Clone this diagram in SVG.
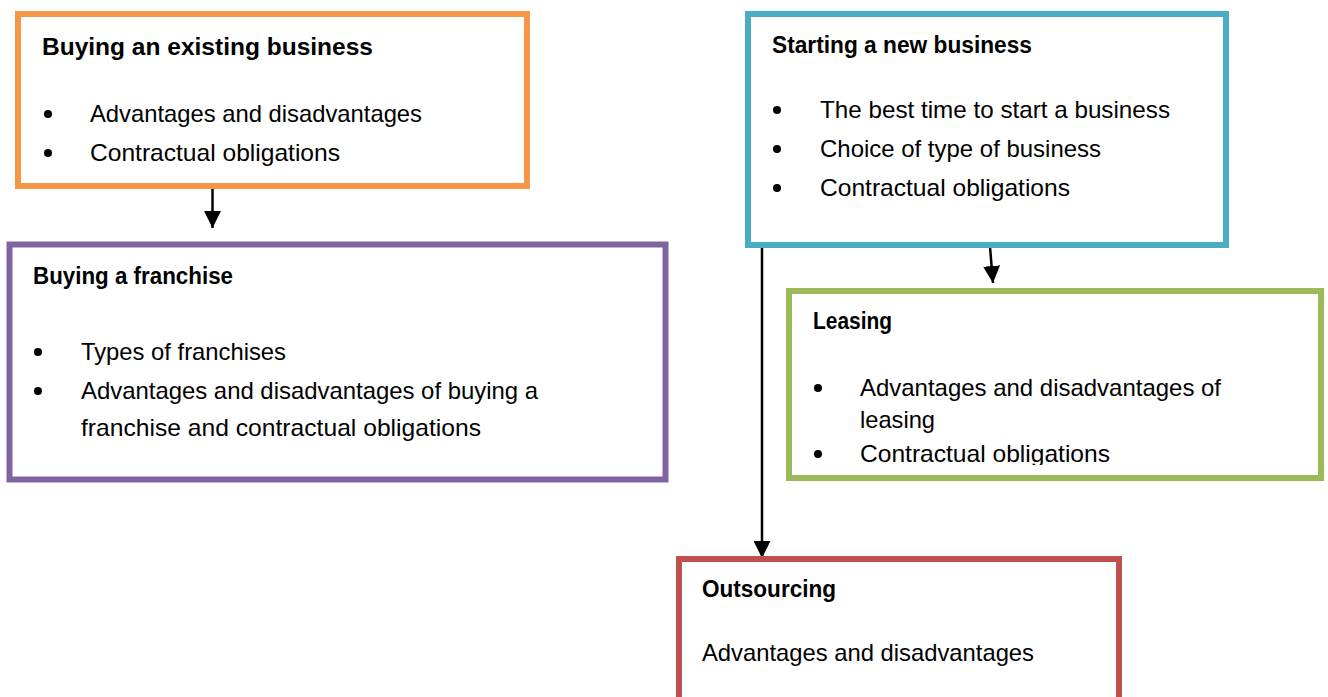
<svg xmlns="http://www.w3.org/2000/svg" width="1328" height="697" viewBox="0 0 1328 697">
<style>
.box{fill:#fff;stroke-width:6}
.h{font-family:"Liberation Sans",Arial,sans-serif;font-weight:bold;font-size:23px;fill:#000}
.t{font-family:"Liberation Sans",Arial,sans-serif;font-size:24px;fill:#000}
.b{fill:#000}
.c{stroke:#000;stroke-width:2.5;fill:none}
</style>
<defs>
<marker id="ah" viewBox="0 0 16 16" refX="16" refY="8" markerWidth="17" markerHeight="17" markerUnits="userSpaceOnUse" orient="auto">
<path d="M0,0 L16,8 L0,16 z" fill="#000"/>
</marker>
<clipPath id="gclip"><rect x="786" y="288" width="540" height="177"/></clipPath>
</defs>
<rect width="1328" height="697" fill="#fff"/>
<g id="connectors">
<line class="c" x1="212.5" y1="189" x2="212.5" y2="228" marker-end="url(#ah)"/>
<line class="c" x1="990" y1="247" x2="993" y2="283" marker-end="url(#ah)"/>
<line class="c" x1="762" y1="246" x2="762" y2="558" marker-end="url(#ah)"/>
</g>
<g id="existing">
<rect class="box" x="18" y="14" width="509" height="172" stroke="#F79646"/>
<text class="h" x="42" y="55" font-size="25" textLength="331" lengthAdjust="spacingAndGlyphs">Buying an existing business</text>
<circle class="b" cx="48" cy="114" r="4"/>
<text class="t" x="90" y="122" textLength="332" lengthAdjust="spacingAndGlyphs">Advantages and disadvantages</text>
<circle class="b" cx="48" cy="153" r="4"/>
<text class="t" x="90" y="161" textLength="250" lengthAdjust="spacingAndGlyphs">Contractual obligations</text>
</g>
<g id="franchise">
<rect class="box" x="9.5" y="244.5" width="656" height="235" stroke="#8064A2" stroke-width="5"/>
<text class="h" x="33" y="284" textLength="200" lengthAdjust="spacingAndGlyphs">Buying a franchise</text>
<circle class="b" cx="38" cy="352" r="4"/>
<text class="t" x="81" y="360" textLength="205" lengthAdjust="spacingAndGlyphs">Types of franchises</text>
<circle class="b" cx="38" cy="391" r="4"/>
<text class="t" x="81" y="399" textLength="457" lengthAdjust="spacingAndGlyphs">Advantages and disadvantages of buying a</text>
<text class="t" x="81" y="436" textLength="400" lengthAdjust="spacingAndGlyphs">franchise and contractual obligations</text>
</g>
<g id="new">
<rect class="box" x="748" y="14" width="478" height="231" stroke="#4BACC6"/>
<text class="h" x="772" y="53" textLength="260" lengthAdjust="spacingAndGlyphs">Starting a new business</text>
<circle class="b" cx="777" cy="110" r="4"/>
<text class="t" x="820" y="118" textLength="350" lengthAdjust="spacingAndGlyphs">The best time to start a business</text>
<circle class="b" cx="777" cy="149" r="4"/>
<text class="t" x="820" y="157" textLength="281" lengthAdjust="spacingAndGlyphs">Choice of type of business</text>
<circle class="b" cx="777" cy="188" r="4"/>
<text class="t" x="820" y="196" textLength="250" lengthAdjust="spacingAndGlyphs">Contractual obligations</text>
</g>
<g id="leasing">
<rect class="box" x="789" y="291" width="532" height="187" stroke="#9BBB59"/>
<g clip-path="url(#gclip)">
<text class="h" x="813" y="329" textLength="79" lengthAdjust="spacingAndGlyphs">Leasing</text>
<circle class="b" cx="818" cy="388" r="4"/>
<text class="t" x="860" y="396" textLength="361" lengthAdjust="spacingAndGlyphs">Advantages and disadvantages of</text>
<text class="t" x="860" y="428" textLength="75" lengthAdjust="spacingAndGlyphs">leasing</text>
<circle class="b" cx="818" cy="454" r="4"/>
<text class="t" x="860" y="462" textLength="250" lengthAdjust="spacingAndGlyphs">Contractual obligations</text>
</g>
</g>
<g id="outsourcing">
<rect class="box" x="679" y="559" width="440" height="200" stroke="#C0504D"/>
<text class="h" x="702" y="597" textLength="134" lengthAdjust="spacingAndGlyphs">Outsourcing</text>
<text class="t" x="702" y="661" textLength="332" lengthAdjust="spacingAndGlyphs">Advantages and disadvantages</text>
</g>
</svg>
